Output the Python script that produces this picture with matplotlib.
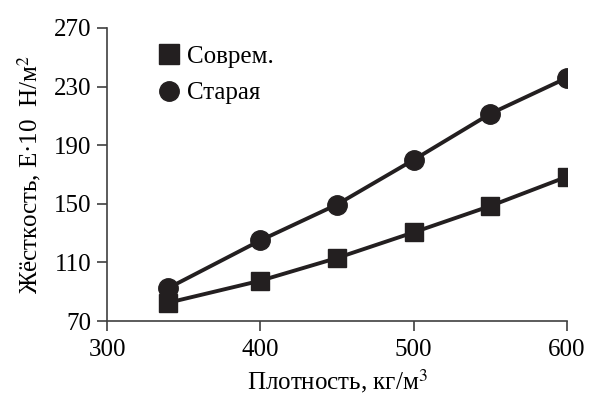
import matplotlib
matplotlib.use("Agg")
import matplotlib.pyplot as plt
from matplotlib.lines import Line2D

plt.rcParams['font.family'] = ['Liberation Serif', 'DejaVu Serif']
plt.rcParams['mathtext.fontset'] = 'stix'

density = [340, 400, 450, 500, 550, 600]
modern = [82.5, 97.5, 113, 130.5, 148.5, 168.5]
old = [92.5, 125, 149.5, 180, 211.5, 236]

x_ticks = [300, 400, 500, 600]
y_ticks = [70, 110, 150, 190, 230, 270]

ink = '#231f20'

fig = plt.figure(figsize=(5.89, 3.98), dpi=100)
ax = fig.add_axes([107 / 589, 1 - 321 / 398, (567 - 107) / 589, (321 - 28) / 398])

ax.plot(density, old, color=ink, lw=2.8, marker='o', ms=14, mfc=ink, mec=ink, zorder=3)
ax.plot(density, modern, color=ink, lw=2.8, marker='s', ms=13, mfc=ink, mec=ink, zorder=3)

ax.set_xlim(300, 600)
ax.set_ylim(70, 270)
ax.set_xticks(x_ticks)
ax.set_yticks(y_ticks)
ax.tick_params(axis='both', labelsize=18, colors='black', width=1.2, length=7,
               direction='out', color='#404040')
ax.tick_params(axis='x', pad=6)
ax.tick_params(axis='y', pad=4)
for side in ('top', 'right'):
    ax.spines[side].set_visible(False)
for side in ('left', 'bottom'):
    ax.spines[side].set_color('#404040')
    ax.spines[side].set_linewidth(1.2)
ax.spines['bottom'].set_bounds(300, 600)

ax.set_xlabel('Плотность, кг/м$^3$', fontsize=18, labelpad=4)
ax.set_ylabel('Жёсткость, E·10  Н/м$^2$', fontsize=18, labelpad=8)

handles = [
    Line2D([], [], ls='none', marker='s', ms=14, mfc=ink, mec=ink),
    Line2D([], [], ls='none', marker='o', ms=14, mfc=ink, mec=ink),
]
ax.legend(handles, ['Соврем.', 'Старая'], loc='upper left',
          bbox_to_anchor=(0.075, 1.0), frameon=False, fontsize=18,
          handlelength=0.8, handletextpad=0.3, labelspacing=0.55,
          borderaxespad=0.3)

fig.savefig('out.png', dpi=100)
